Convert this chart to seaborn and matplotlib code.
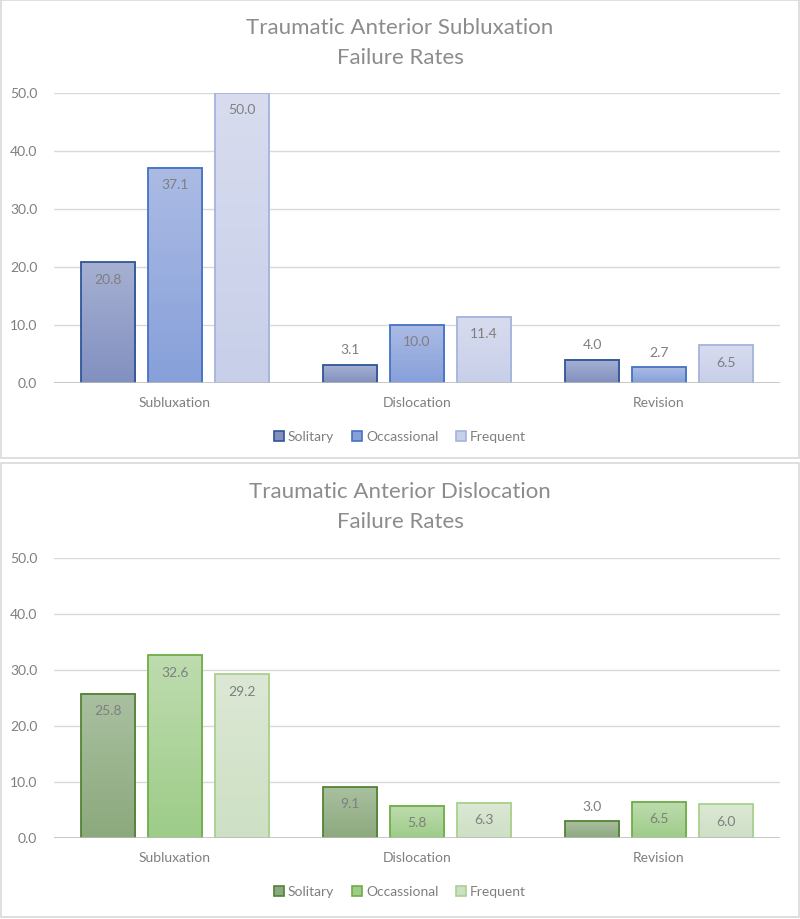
import numpy as np
import pandas as pd
import matplotlib.pyplot as plt
import seaborn as sns
from matplotlib.colors import LinearSegmentedColormap
from matplotlib.patches import Patch, Rectangle

# --- data ---
categories = ["Subluxation", "Dislocation", "Revision"]
frequency = ["Solitary", "Occassional", "Frequent"]

subl_solitary = [20.8, 3.1, 4.0]
subl_occasional = [37.1, 10.0, 2.7]
subl_frequent = [50.0, 11.4, 6.5]

disl_solitary = [25.8, 9.1, 3.0]
disl_occasional = [32.6, 5.8, 6.5]
disl_frequent = [29.2, 6.3, 6.0]

titles = [("Traumatic Anterior Subluxation", "Failure Rates"),
          ("Traumatic Anterior Dislocation", "Failure Rates")]

# (top colour, bottom colour, edge colour) per series
blue_style = [("#a6b0d2", "#8290c0", "#2f5597"),
              ("#abbbe4", "#87a0da", "#4472c4"),
              ("#d8dcee", "#c7cfe9", "#a4b4dc")]
green_style = [("#a9c0a0", "#8ca97d", "#548235"),
               ("#bedcaf", "#9dcc88", "#70ad47"),
               ("#dce8d5", "#cde0c4", "#a9d18e")]

TEXT = "#7f7f7f"
FS = 10


def make_frame(sol, occ, freq):
    rows = []
    for name, vals in zip(frequency, [sol, occ, freq]):
        for cat, v in zip(categories, vals):
            rows.append({"Category": cat, "Frequency": name, "Rate": v})
    return pd.DataFrame(rows)


def draw_panel(ax, df, style):
    sns.barplot(data=df, x="Category", y="Rate", hue="Frequency",
                order=categories, hue_order=frequency,
                width=0.83, gap=0.18, legend=False, ax=ax,
                palette=[s[2] for s in style])
    for container, (top, bottom, edge) in zip(ax.containers, style):
        cmap = LinearSegmentedColormap.from_list("g", [bottom, top])
        for bar in container:
            x0, w, h = bar.get_x(), bar.get_width(), bar.get_height()
            bar.set_facecolor("none")
            bar.set_edgecolor(edge)
            bar.set_linewidth(1.3)
            bar.set_zorder(2)
            # vertical gradient fill, like the Excel original
            ax.imshow(np.linspace(0, 1, 128).reshape(-1, 1), extent=[x0, x0 + w, 0, h],
                      origin="lower", cmap=cmap, aspect="auto", zorder=1.5)
            xc = x0 + w / 2
            if h >= 5:
                ax.annotate(f"{h:.1f}", (xc, h), xytext=(0, -12.5), textcoords="offset points",
                            ha="center", va="center", color=TEXT, fontsize=FS, zorder=4)
            else:
                ax.annotate(f"{h:.1f}", (xc, h), xytext=(0, 10.5), textcoords="offset points",
                            ha="center", va="center", color=TEXT, fontsize=FS, zorder=4)

    ax.set_xlim(-0.5, 2.5)
    ax.set_ylim(0, 50)
    ax.set_yticks(range(0, 51, 10))
    ax.set_yticklabels([f"{t:.1f}" for t in range(0, 51, 10)])
    ax.grid(axis="y", color="#d9d9d9", linewidth=1)
    ax.set_axisbelow(True)
    ax.axhline(0, color="#bfbfbf", linewidth=1.2, zorder=3)
    sns.despine(ax=ax, left=True, bottom=True)
    ax.tick_params(axis="both", length=0, labelcolor=TEXT, labelsize=FS)
    ax.tick_params(axis="x", pad=10)
    ax.tick_params(axis="y", pad=12)
    ax.set_xlabel("")
    ax.set_ylabel("")


sns.set_theme(style="white")
plt.rcParams["font.family"] = ["Lato", "DejaVu Sans"]

fig = plt.figure(figsize=(8, 9.19), dpi=100)
H = 919.0

panels = [
    (make_frame(subl_solitary, subl_occasional, subl_frequent), blue_style, 383, 290, 0, 458, 28, 437),
    (make_frame(disl_solitary, disl_occasional, disl_frequent), green_style, 838, 280, 463, 454, 492, 892),
]

for (df, style, y0, ph, box_top, box_h, title_y, leg_y), title in zip(panels, titles):
    ax = fig.add_axes([54 / 800, (H - y0) / H, 726 / 800, ph / H])
    draw_panel(ax, df, style)
    fig.text(0.5, 1 - title_y / H, title[0], ha="center", va="center",
             fontsize=16, color="#8c8c8c")
    fig.text(0.5, 1 - (title_y + 30) / H, title[1], ha="center", va="center",
             fontsize=16, color="#8c8c8c")
    handles = [Patch(facecolor=s[1], edgecolor=s[2], linewidth=1.2) for s in style]
    fig.legend(handles, frequency, loc="center", bbox_to_anchor=(0.5, 1 - leg_y / H),
               ncol=3, frameon=False, fontsize=FS, labelcolor=TEXT,
               handlelength=0.7, handleheight=0.7, handletextpad=0.3, columnspacing=1.3)
    fig.add_artist(Rectangle((1 / 800, 1 - (box_top + box_h) / H), 798 / 800, box_h / H,
                             transform=fig.transFigure, fill=False,
                             edgecolor="#d9d9d9", linewidth=1.2))

fig.savefig("out.png", dpi=100)
